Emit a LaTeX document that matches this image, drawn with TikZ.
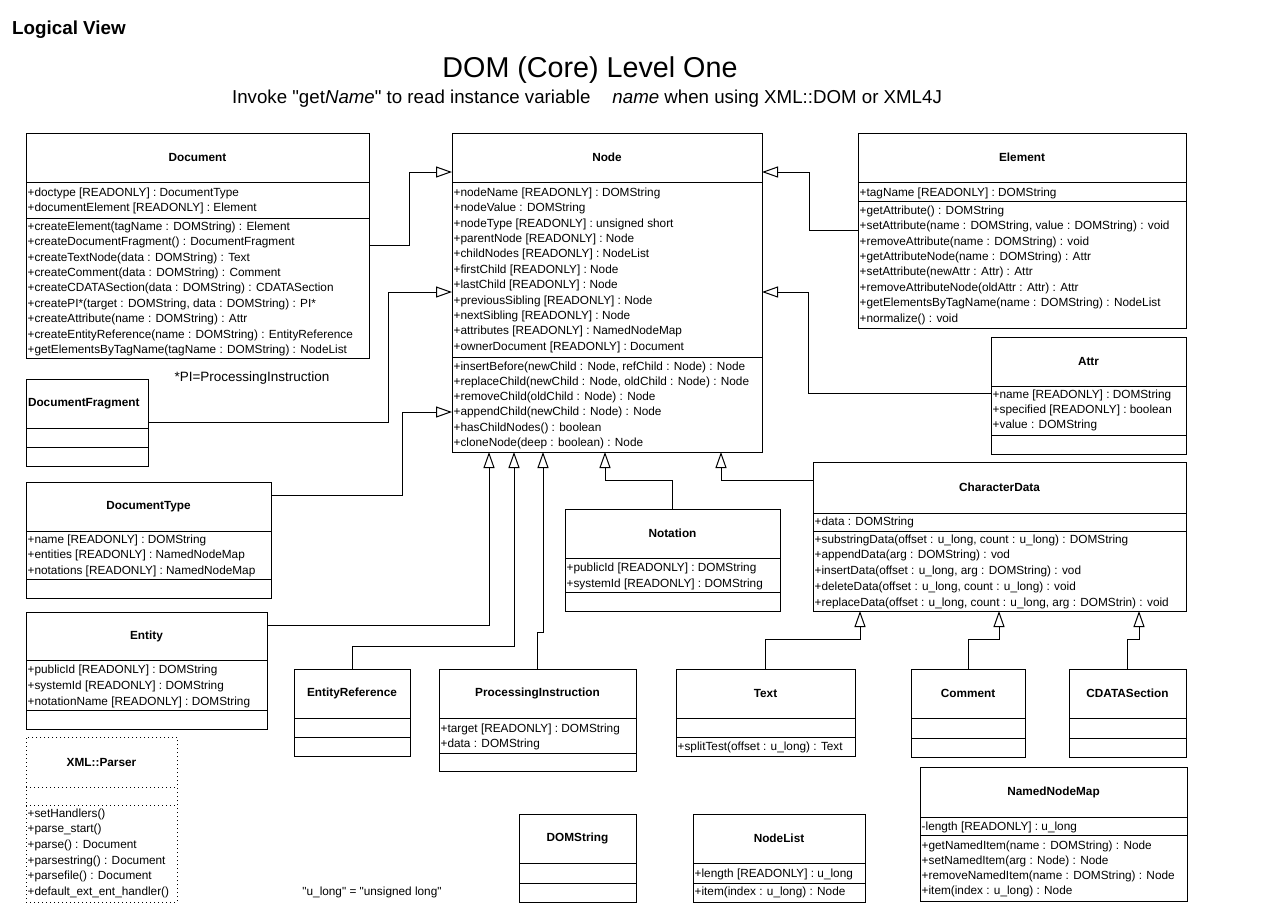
\documentclass[tikz,border=0pt]{standalone}
\usepackage{fontspec}
\setmainfont{Liberation Sans}[Ligatures=TeXOff]
\usetikzlibrary{arrows.meta,fit}
\newcommand\dq{"}
\tikzset{
  box/.style={draw, line width=1pt, inner sep=0pt, outer sep=0pt},
  sep/.style={line width=1pt},
  cname/.style={font=\fontsize{11.8}{14}\selectfont\bfseries, inner sep=0pt},
  member/.style={font=\fontsize{11.8}{14}\selectfont, anchor=base west, inner sep=0pt},
  gen/.style={line width=1pt, -{Triangle[open, length=16pt, width=11pt]}},
  note/.style={font=\fontsize{11.8}{14}\selectfont, inner sep=0pt}
}
\newcommand\umlclass[8]{%
  \node[box, fit={(#3,#4) (#5,#6)}] (#1) {};
  \draw[sep] (#3,#7) -- (#5,#7);
  \draw[sep] (#3,#8) -- (#5,#8);
  \node[cname] (#1-name) at ({(#3+#5)/2},{(#4+#7)/2}) {#2};
}
\newcommand\members[5][15.4]{%
  \foreach \t [count=\i] in {#5} {\node[member] (#2-\i) at (#3,{#4+4.2+(\i-1)*#1}) {\t};}
}
\begin{document}
\begin{tikzpicture}[x=1pt,y=-1pt]
\path[use as bounding box, fill=white] (0,0) rectangle (1280,911);

\node[font=\fontsize{18.8}{20}\selectfont\bfseries, anchor=west, inner sep=0pt] (lv) at (12,30) {Logical View};
\node[font=\fontsize{28.7}{32}\selectfont, inner sep=0pt] (title) at (590,70) {DOM (Core) Level One};
\node[font=\fontsize{18.7}{20}\selectfont, inner sep=0pt] (subtitle) at (587,99) {Invoke \dq get\textit{Name}\dq{} to read instance variable\hspace{22pt}\textit{name} when using XML::DOM or XML4J};

% Document
\umlclass{doc}{Document}{26}{133}{369}{358}{182}{218}
\members{doc-a}{27.5}{192}{{+doctype [READONLY] : DocumentType},{+documentElement [READONLY] : Element}}
\members{doc-m}{27.5}{226}{{+createElement(tagName : DOMString) : Element},{+createDocumentFragment() : DocumentFragment},{+createTextNode(data : DOMString) : Text},{+createComment(data : DOMString) : Comment},{+createCDATASection(data : DOMString) : CDATASection},{+createPI*(target : DOMString, data : DOMString) : PI*},{+createAttribute(name : DOMString) : Attr},{+createEntityReference(name : DOMString) : EntityReference},{+getElementsByTagName(tagName : DOMString) : NodeList}}

% Node
\umlclass{nodecls}{Node}{452}{133}{762}{452}{182}{357}
\members{node-a}{453.5}{192}{{+nodeName [READONLY] : DOMString},{+nodeValue : DOMString},{+nodeType [READONLY] : unsigned short},{+parentNode [READONLY] : Node},{+childNodes [READONLY] : NodeList},{+firstChild [READONLY] : Node},{+lastChild [READONLY] : Node},{+previousSibling [READONLY] : Node},{+nextSibling [READONLY] : Node},{+attributes [READONLY] : NamedNodeMap},{+ownerDocument [READONLY] : Document}}
\members[15.2]{node-m}{453.5}{366}{{+insertBefore(newChild : Node, refChild : Node) : Node},{+replaceChild(newChild : Node, oldChild : Node) : Node},{+removeChild(oldChild : Node) : Node},{+appendChild(newChild : Node) : Node},{+hasChildNodes() : boolean},{+cloneNode(deep : boolean) : Node}}

% Element
\umlclass{elem}{Element}{858}{133}{1186}{328}{182}{201}
\members{elem-a}{859.5}{192}{{+tagName [READONLY] : DOMString}}
\members{elem-m}{859.5}{210}{{+getAttribute() : DOMString},{+setAttribute(name : DOMString, value : DOMString) : void},{+removeAttribute(name : DOMString) : void},{+getAttributeNode(name : DOMString) : Attr},{+setAttribute(newAttr : Attr) : Attr},{+removeAttributeNode(oldAttr : Attr) : Attr},{+getElementsByTagName(name : DOMString) : NodeList},{+normalize() : void}}

% Attr
\umlclass{attr}{Attr}{991}{337}{1186}{454}{386}{435}
\members[15]{attr-a}{992.5}{394}{{+name [READONLY] : DOMString},{+specified [READONLY] : boolean},{+value : DOMString}}

% DocumentFragment
\begin{scope}[cname/.append style={text width=118pt, align=left}]
\umlclass{frag}{DocumentFragment}{26}{379}{148}{466}{428}{447}
\end{scope}
\node[note, font=\fontsize{13.5}{15}\selectfont] (pinote) at (252,378) {*PI=ProcessingInstruction};

% DocumentType
\umlclass{doctype}{DocumentType}{26}{482}{271}{598}{531}{579}
\members[15.5]{doctype-a}{27.5}{539}{{+name [READONLY] : DOMString},{+entities [READONLY] : NamedNodeMap},{+notations [READONLY] : NamedNodeMap}}

% Entity
\umlclass{entity}{Entity}{26}{612}{267}{729}{660}{710}
\members[16]{entity-a}{27.5}{669}{{+publicId [READONLY] : DOMString},{+systemId [READONLY] : DOMString},{+notationName [READONLY] : DOMString}}

% XML::Parser (dotted)
\begin{scope}[box/.append style={dash pattern=on 1pt off 3pt}, sep/.append style={dash pattern=on 1pt off 3pt}]
\umlclass{parser}{XML::Parser}{26}{737}{177}{902}{787}{805}
\end{scope}
\members[15.6]{parser-m}{27.5}{813}{{+setHandlers()},{+parse\_start()},{+parse() : Document},{+parsestring() : Document},{+parsefile() : Document},{+default\_ext\_ent\_handler()}}

% EntityReference
\umlclass{entref}{EntityReference}{294}{669}{410}{756}{718}{737}

% ProcessingInstruction
\umlclass{pi}{ProcessingInstruction}{439}{669}{636}{771}{718}{753}
\members[15]{pi-a}{440.5}{728}{{+target [READONLY] : DOMString},{+data : DOMString}}

% Text
\umlclass{text}{Text}{676}{669}{855}{756}{718}{737}
\members{text-m}{677.5}{746}{{+splitTest(offset : u\_long) : Text}}

% Notation
\umlclass{notation}{Notation}{565}{509}{780}{611}{558}{592}
\members[16]{notation-a}{566.5}{567}{{+publicId [READONLY] : DOMString},{+systemId [READONLY] : DOMString}}

% CharacterData
\umlclass{chardata}{CharacterData}{813}{462}{1186}{611}{513}{531}
\members{chardata-a}{814.5}{521}{{+data : DOMString}}
\members[15.75]{chardata-m}{814.5}{539}{{+substringData(offset : u\_long, count : u\_long) : DOMString},{+appendData(arg : DOMString) : vod},{+insertData(offset : u\_long, arg : DOMString) : vod},{+deleteData(offset : u\_long, count : u\_long) : void},{+replaceData(offset : u\_long, count : u\_long, arg : DOMStrin) : void}}

% Comment, CDATASection
\umlclass{comment}{Comment}{911}{669}{1025}{757}{718}{738}
\umlclass{cdata}{CDATASection}{1069}{669}{1186}{757}{718}{738}

% DOMString, NodeList
\umlclass{domstring}{DOMString}{519}{814}{636}{902}{863}{883}
\umlclass{nodelist}{NodeList}{693}{814}{865}{902}{863}{883}
\members{nodelist-a}{694.5}{873}{{+length [READONLY] : u\_long}}
\members{nodelist-m}{694.5}{891}{{+item(index : u\_long) : Node}}

% NamedNodeMap
\umlclass{nnm}{NamedNodeMap}{920}{767}{1187}{901}{817}{835}
\members{nnm-a}{921.5}{826}{{-length [READONLY] : u\_long}}
\members[15]{nnm-m}{921.5}{845}{{+getNamedItem(name : DOMString) : Node},{+setNamedItem(arg : Node) : Node},{+removeNamedItem(name : DOMString) : Node},{+item(index : u\_long) : Node}}

\node[note] (ulong) at (372,892) {\dq u\_long\dq{} = \dq unsigned long\dq};

% generalizations
\draw[gen] (doc.east |- 0,245) -| (409,172) -- (nodecls.west |- 0,172);
\draw[gen] (frag.east |- 0,422) -| (388,292) -- (nodecls.west |- 0,292);
\draw[gen] (doctype.east |- 0,495) -| (402,412) -- (nodecls.west |- 0,412);
\draw[gen] (elem.west |- 0,230) -| (809,172) -- (nodecls.east |- 0,172);
\draw[gen] (attr.west |- 0,393) -| (808,292) -- (nodecls.east |- 0,292);
\draw[gen] (entity.east |- 0,625) -| (nodecls.south -| 489,0);
\draw[gen] (entref.north) |- (514,646) -- (nodecls.south -| 514,0);
\draw[gen] (pi.north) |- (543,632) -- (nodecls.south -| 543,0);
\draw[gen] (notation.north) |- (605,480) -- (nodecls.south -| 605,0);
\draw[gen] (chardata.west |- 0,480) -| (nodecls.south -| 721,0);
\draw[gen] (text.north) |- (860,639) -- (chardata.south -| 860,0);
\draw[gen] (comment.north) |- (999,639) -- (chardata.south -| 999,0);
\draw[gen] (cdata.north) |- (1139,639) -- (chardata.south -| 1139,0);
\end{tikzpicture}
\end{document}
